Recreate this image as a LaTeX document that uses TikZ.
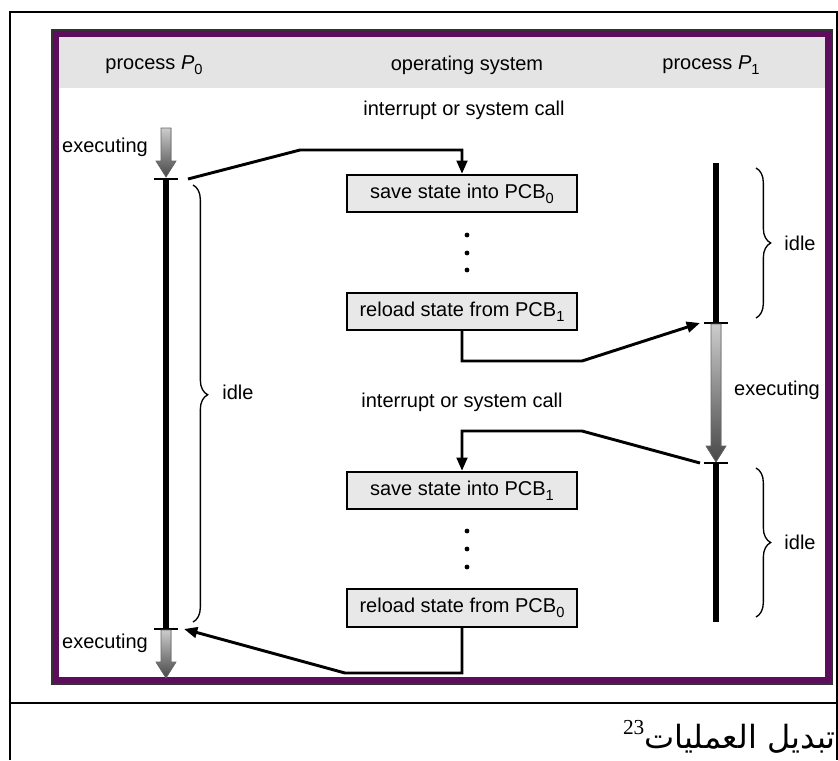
\documentclass[tikz,border=0pt]{standalone}
\usepackage{fontspec}
\setmainfont{Liberation Sans}
\newfontfamily\arabicfont[Script=Arabic]{DejaVu Sans}
\newfontfamily\numfont{Liberation Serif}
\usepackage{xcolor}
\usepackage{tikz}
\usetikzlibrary{arrows.meta,decorations.pathreplacing}
\TeXXeTstate=1

\definecolor{framepurple}{RGB}{92,14,92}
\definecolor{headgray}{RGB}{228,228,228}
\definecolor{boxgray}{RGB}{232,232,232}

% low index as in the figure
\newcommand{\lowidx}[1]{\raisebox{-0.45ex}{\fontsize{11}{12}\selectfont #1}}
% shaded "executing" arrow: x, top, tip
\newcommand{\execarrow}[3]{%
  \filldraw[draw=black!60, line width=0.5pt, top color=black!20, bottom color=black!72]
    (#1-5,#2) -- (#1+5,#2) -- (#1+5,#3-16) -- (#1+10,#3-16) -- (#1,#3)
    -- (#1-10,#3-16) -- (#1-5,#3-16) -- cycle;}

\begin{document}
\begin{tikzpicture}[x=0.75pt, y=-0.75pt,
    every node/.style={font=\fontsize{15}{18}\selectfont, inner sep=0pt},
    box/.style={draw, line width=1.5pt, fill=boxgray,
        minimum width=173pt, minimum height=28pt},
    conn/.style={line width=2.2pt},
    tip/.style={-{Triangle[length=10pt, width=8pt]}},
    bar/.style={line width=4pt},
    tick/.style={line width=1pt},
    brc/.style={decorate, decoration={brace, amplitude=11pt}, line width=1pt}]
    \useasboundingbox (0,0) rectangle (838,760);

    % table lines
    \draw[line width=1.7pt] (10,760) -- (10,12) -- (837,12) -- (837,760);
    \draw[line width=1.7pt] (10,703) -- (837,703);

    % frame and header
    \fill[headgray] (59,37) rectangle (825,88);
    \draw[framepurple, line width=5pt] (55.5,33.5) rectangle (828.5,680.5);
    \draw[black!80, line width=0.8pt] (52,30) rectangle (832,684);

    \node (hP0) at (154,65) {process \textit{P}\lowidx{0}};
    \node (hOS) at (467,65) {operating system};
    \node (hP1) at (711,65) {process \textit{P}\lowidx{1}};

    % operating system column
    \node (int1) at (464,110) {interrupt or system call};
    \node[box] (save0) at (462,193.5) {save state into PCB\lowidx{0}};
    \node[box] (reload1) at (462,311.5) {reload state from PCB\lowidx{1}};
    \node (int2) at (462,402) {interrupt or system call};
    \node[box] (save1) at (462,490.5) {save state into PCB\lowidx{1}};
    \node[box] (reload0) at (462,608) {reload state from PCB\lowidx{0}};
    \foreach \y in {235,253,270,531,549,567}
        \fill (467,\y) circle (1.8pt);

    % process P0
    \execarrow{166}{128}{177}
    \draw[bar] (166,179) -- (166,629);
    \draw[tick] (154,179) -- (178,179);
    \draw[tick] (154,629) -- (178,629);
    \execarrow{166}{630}{678}
    \node (exA) at (105,147) {executing};
    \node (exB) at (105,643) {executing};
    \draw[brc, decoration={aspect=0.48}] (193,185) -- (193,622);
    \node (idA) at (238,392) {idle};

    % process P1
    \draw[bar] (716,163) -- (716,323);
    \draw[tick] (704,323) -- (728,323);
    \execarrow{716}{324}{462}
    \draw[tick] (704,463) -- (728,463);
    \draw[bar] (716,463) -- (716,622);
    \node (exC) at (777,390) {executing};
    \draw[brc] (756,168) -- (756,318);
    \draw[brc] (756,468) -- (756,617);
    \node (idB) at (800,243) {idle};
    \node (idC) at (800,542) {idle};

    % switches
    \coordinate (p0out) at (188,179);
    \coordinate (p1in) at (700,323);
    \coordinate (p1out) at (700,463);
    \coordinate (p0in) at (184,629);
    \draw[conn, tip] (p0out) -- (300,150) -| (save0.north);
    \draw[conn, tip] (reload1.south) |- (582,361) -- (p1in);
    \draw[conn, tip] (p1out) -- (582,431) -| (save1.north);
    \draw[conn, tip] (reload0.south) |- (345,673) -- (p0in);

    % caption
    \node[anchor=south east] (cap) at (836,754)
        {\raisebox{1.4ex}{\numfont\fontsize{16}{18}\selectfont 23}%
        \arabicfont\fontsize{24}{28}\selectfont\beginR تبديل العمليات\endR};
\end{tikzpicture}
\end{document}
